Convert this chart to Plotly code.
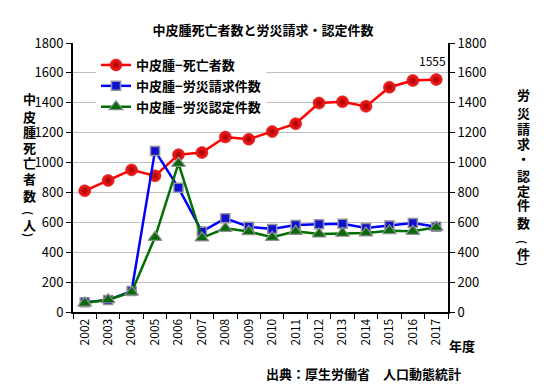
import plotly.graph_objects as go

years = [str(y) for y in range(2002, 2018)]
deaths = [811, 880, 951, 911, 1053, 1067, 1171, 1156, 1207, 1260, 1398, 1407, 1376, 1504, 1549, 1555]
claims = [65, 80, 140, 1078, 831, 538, 627, 571, 555, 582, 587, 591, 562, 578, 595, 570]
approved = [60, 82, 133, 500, 995, 496, 560, 538, 500, 540, 522, 527, 529, 544, 540, 567]

left_title = "中皮腫死亡者数(人)"
right_title = "労災請求・認定件数(件)"

FONT = "Noto Sans CJK JP"
W, H = 550, 390
OFF = 8  # page body offset
L, R, T, B = 65, 110, 35, 86
PW, PH = W - L - R, H - T - B

def px(X):
    return (X - OFF - L) / PW

def py(Y):
    return (H - B - (Y - OFF)) / PH

fig = go.Figure()
fig.add_trace(go.Scatter(
    x=years, y=deaths, name="<b>中皮腫−死亡者数</b>", mode="lines+markers", legendgroup="a",
    line=dict(color="#ff0000", width=2.5),
    marker=dict(symbol="circle", size=12, color="#ff2020",
                gradient=dict(type="radial", color="#a00000"),
                line=dict(color="#c00000", width=0.5)),
))
fig.add_trace(go.Scatter(
    x=years, y=claims, name="<b>中皮腫−労災請求件数</b>", mode="lines+markers", yaxis="y2",
    legendgroup="b",
    line=dict(color="#0000ff", width=2.5),
    marker=dict(symbol="square", size=9, color="#1010d0",
                line=dict(color="#9090a0", width=1.5)),
))
fig.add_trace(go.Scatter(
    x=years, y=approved, name="<b>中皮腫−労災認定件数</b>", mode="lines+markers", yaxis="y2",
    legendgroup="c",
    line=dict(color="#007000", width=2.5),
    marker=dict(symbol="triangle-up", size=12, color="#0a6a0a",
                line=dict(color="#909090", width=1.2)),
))

axis_common = dict(range=[0, 1800], dtick=200, ticks="outside", ticklen=5,
                   tickcolor="black", linecolor="black", linewidth=2, showline=True,
                   tickfont=dict(family=FONT, size=13, color="black"))

fig.update_layout(
    width=W, height=H,
    margin=dict(l=L, r=R, t=T, b=B, autoexpand=False),
    paper_bgcolor="white", plot_bgcolor="white",
    font=dict(family=FONT, color="black"),
    showlegend=True,
    legend=dict(x=px(96), y=py(50), xanchor="left", yanchor="top",
                bgcolor="white", font=dict(family=FONT, size=13, color="black"),
                tracegroupgap=1, itemwidth=30),
    xaxis=dict(type="category", range=[-0.5, 15.5], tickson="boundaries", ticks="outside",
               ticklen=5, tickcolor="black", linecolor="black", linewidth=2, showline=True,
               tickangle=-90, showgrid=False,
               tickfont=dict(family=FONT, size=12, color="black")),
    yaxis=dict(**axis_common, showgrid=True, gridcolor="#c0c0c0", gridwidth=1),
    yaxis2=dict(**axis_common, overlaying="y", side="right", showgrid=False),
    title=dict(text="<b>中皮腫死亡者数と労災請求・認定件数</b>",
               x=(263 - OFF) / W, xanchor="center",
               y=1 - (30 - OFF) / H, yanchor="middle",
               font=dict(family=FONT, size=13, color="black")),
)

left_y = [98, 116, 132, 147, 162, 178, 195, 213, 224, 235]
right_y = [95, 112, 128, 143, 158, 175, 190, 205, 222, 242, 253, 264]

def add_vertical(chars, ys, X):
    for ch, yy in zip(chars, ys):
        rot = ch in "()"
        fig.add_annotation(text="<b>%s</b>" % ch, xref="paper", yref="paper",
                           x=px(X), y=py(yy), xanchor="center", yanchor="middle",
                           textangle=90 if rot else 0, showarrow=False,
                           font=dict(family=FONT, size=11 if rot else 13, color="black"))

add_vertical(left_title, left_y, 29)
add_vertical(right_title, right_y, 523)

fig.add_annotation(text="1555", x=15, y=deaths[-1], xref="x", yref="y2",
                   yshift=19, xshift=-4, showarrow=False,
                   font=dict(family=FONT, size=12, color="black"))
fig.add_annotation(text="<b>年度</b>", xref="paper", yref="paper", x=px(447), y=py(345),
                   xanchor="left", yanchor="middle", showarrow=False,
                   font=dict(family=FONT, size=13, color="black"))
fig.add_annotation(text="<b>出典：厚生労働省　人口動態統計</b>", xref="paper", yref="paper",
                   x=px(463), y=py(373), xanchor="right", yanchor="middle", showarrow=False,
                   font=dict(family=FONT, size=13, color="black"))

fig.write_html("out.html")
